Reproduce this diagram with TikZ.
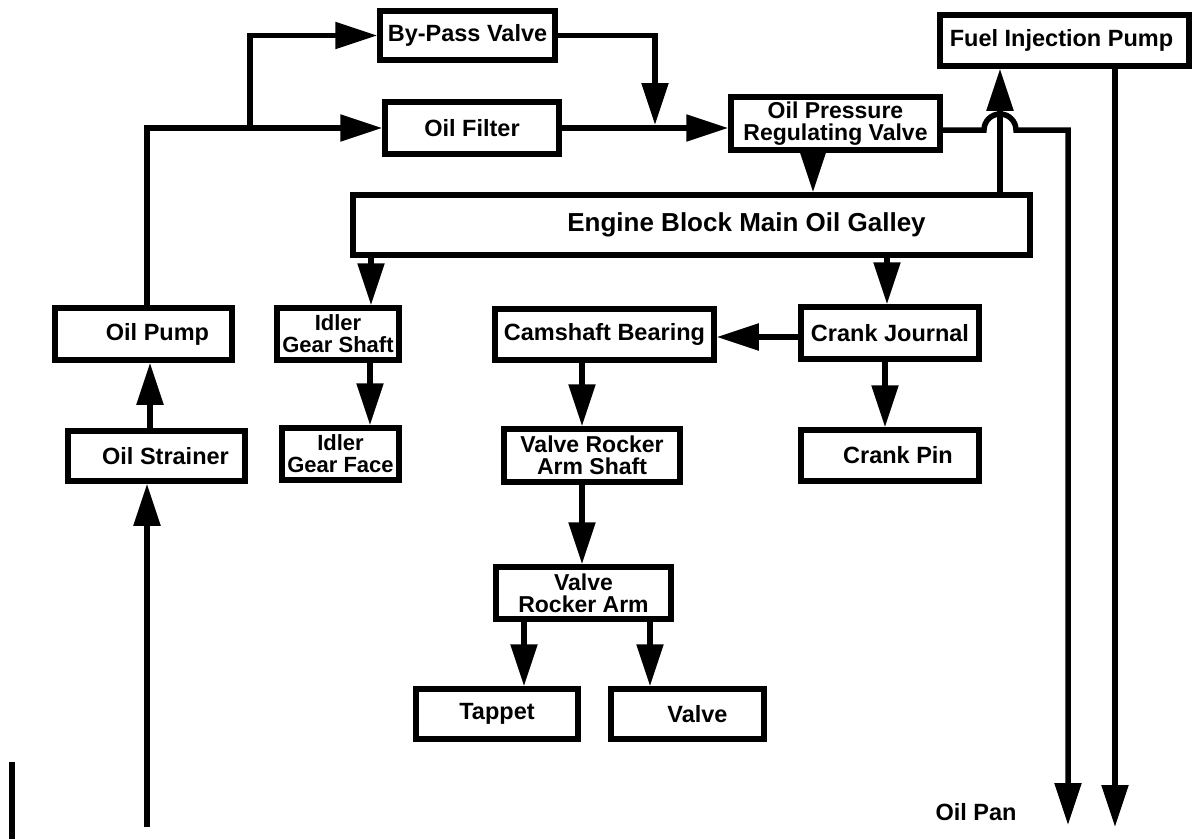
\documentclass[tikz,border=0pt]{standalone}
\usepackage{fontspec}
\setmainfont{Liberation Sans}
\usetikzlibrary{arrows.meta}

\tikzset{
  unit/.style={draw, line width=5.5pt, inner sep=0pt, align=center,
    font=\fontsize{23.5pt}{22pt}\selectfont\bfseries},
  twoline/.style={font=\fontsize{23pt}{22pt}\selectfont\bfseries},
  narrow/.style={font=\fontsize{22pt}{22pt}\selectfont\bfseries},
  flow/.style={line width=5.5pt, -{Triangle[length=42pt,width=26pt]}},
  pipe/.style={line width=5.5pt},
  note/.style={inner sep=0pt, font=\fontsize{23.5pt}{22pt}\selectfont\bfseries}
}

\begin{document}
\begin{tikzpicture}[x=1pt, y=-1pt]
  \useasboundingbox (0,0) rectangle (1192,839);

  % components of the lubrication circuit
  \node[unit, minimum width=175pt, minimum height=49pt] (bypass)     at (467.5,35.5) {By-Pass Valve};
  \node[unit, minimum width=174pt, minimum height=52pt] (filter)     at (472,128)    {Oil Filter};
  \node[unit, minimum width=249pt, minimum height=51pt] (fip)        at (1064.5,40.5){Fuel Injection Pump\hspace*{6pt}};
  \node[unit, twoline, minimum width=209pt, minimum height=53pt] (oprv) at (835.5,123.5){Oil Pressure\\Regulating Valve};
  \node[unit, minimum width=677pt, minimum height=60pt, font=\fontsize{26pt}{22pt}\selectfont\bfseries]
                                                        (galley)     at (691.5,225)  {\hspace*{110pt}Engine Block Main Oil Galley};
  \node[unit, minimum width=177pt, minimum height=52pt] (oilpump)    at (143.5,334)  {\hspace*{28pt}Oil Pump};
  \node[unit, narrow, minimum width=122pt, minimum height=52pt] (idlershaft) at (338,334) {Idler\\Gear Shaft};
  \node[unit, minimum width=219pt, minimum height=51pt] (camshaft)   at (604.5,334.5){Camshaft Bearing};
  \node[unit, minimum width=178pt, minimum height=52pt] (crankj)     at (890,333)    {Crank Journal};
  \node[unit, minimum width=177pt, minimum height=50pt] (strainer)   at (156.5,456)  {\hspace*{18pt}Oil Strainer};
  \node[unit, narrow, minimum width=117pt, minimum height=52pt] (idlerface) at (340.5,454) {Idler\\Gear Face};
  \node[unit, twoline, minimum width=176pt, minimum height=53pt] (vras) at (592,455.5) {Valve Rocker\\Arm Shaft};
  \node[unit, minimum width=178pt, minimum height=51pt] (crankpin)   at (890,455.5)  {\hspace*{16pt}Crank Pin};
  \node[unit, twoline, minimum width=175pt, minimum height=52pt] (vra) at (583.5,593) {Valve\\Rocker Arm};
  \node[unit, minimum width=162pt, minimum height=50pt] (tappet)     at (497,714)    {Tappet};
  \node[unit, minimum width=153pt, minimum height=50pt] (valve)      at (687.5,714)  {\hspace*{20pt}Valve};

  \node[note] (oilpan) at (976,812) {Oil Pan};

  % free ends and junctions
  \coordinate (sump)  at (147,827);
  \coordinate (split) at (250,128);
  \coordinate (merge) at (655,125);
  \coordinate (pan1)  at (1068,825);
  \coordinate (pan2)  at (1115,827);
  \coordinate (bartop) at (12,762);
  \coordinate (barbot) at (12,839);

  % suction side
  \draw[flow] (sump) -- (sump |- strainer.south);
  \draw[flow] ([xshift=-6.5pt]strainer.north) -- ([xshift=6.5pt]oilpump.south);

  % pump outlet through filter / by-pass
  \draw[flow] ([xshift=3.5pt]oilpump.north) |- (filter.west);
  \draw[flow] (split) |- (bypass.west);
  \draw[flow] (bypass.east) -| (merge);
  \draw[flow] (filter.east) -- (filter.east -| oprv.west);

  % regulating valve to galley and back to the pan
  \draw[flow] ([xshift=-22.5pt]oprv.south) -- ([xshift=-22.5pt]oprv.south |- galley.north);
  \draw[flow] ([yshift=-6.5pt]oprv.east) -- (984,130)
      arc[start angle=180, end angle=0, radius=16pt] -- (1068,130) -- (pan1);

  % injection pump feed and return
  \draw[flow] ([xshift=-64.5pt]fip.south |- galley.north) -- ([xshift=-64.5pt]fip.south);
  \draw[flow] ([xshift=50.5pt]fip.south) -- (pan2);

  % galley branches
  \draw[flow] ([xshift=33pt]idlershaft.north |- galley.south) -- ([xshift=33pt]idlershaft.north);
  \draw[flow] ([xshift=-3pt]crankj.north |- galley.south) -- ([xshift=-3pt]crankj.north);
  \draw[flow] ([xshift=32pt]idlershaft.south) -- ([xshift=32pt]idlershaft.south |- idlerface.north);
  \draw[flow] ([yshift=-4pt]crankj.west) -- ([yshift=-4pt]crankj.west -| camshaft.east);
  \draw[flow] ([xshift=-5pt]crankj.south) -- ([xshift=-5pt]crankj.south |- crankpin.north);

  % valve train
  \draw[flow] ([xshift=-22.5pt]camshaft.south) -- ([xshift=-22.5pt]camshaft.south |- vras.north);
  \draw[flow] ([xshift=-10pt]vras.south) -- ([xshift=-10pt]vras.south |- vra.north);
  \draw[flow] ([xshift=27pt]tappet.north |- vra.south) -- ([xshift=27pt]tappet.north);
  \draw[flow] ([xshift=-37.5pt]valve.north |- vra.south) -- ([xshift=-37.5pt]valve.north);

  % short bar at the lower left edge
  \draw[pipe] (bartop) -- (barbot);
\end{tikzpicture}
\end{document}
